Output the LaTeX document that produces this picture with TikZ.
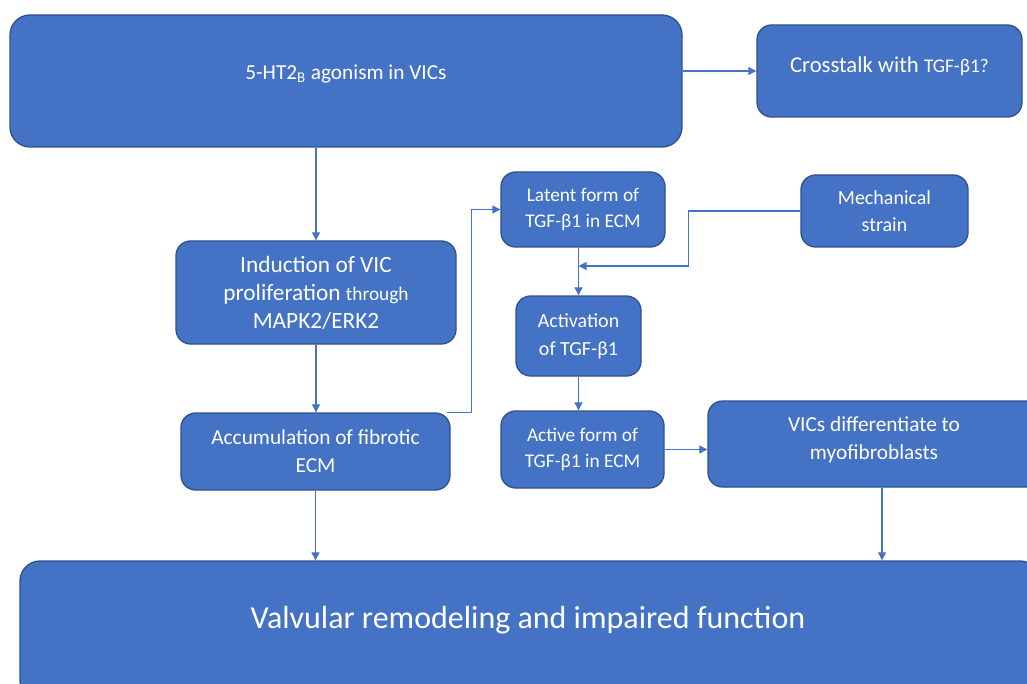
\documentclass[tikz,border=0pt]{standalone}
\usepackage{fontspec}
\setmainfont{Carlito}
\usetikzlibrary{arrows.meta}
\definecolor{boxfill}{HTML}{4472C4}
\definecolor{boxline}{HTML}{2F528F}
\tikzset{
  flowbox/.style={draw=boxline, line width=1pt, fill=boxfill, text=white, rounded corners=11pt, align=center, inner sep=2pt},
  flowarr/.style={draw=boxfill, line width=0.8pt, -{Triangle[length=6pt,width=6pt]}},
  mainfont/.style={font=\fontsize{16}{21}\selectfont},
  smallfont/.style={font=\fontsize{14.5}{20}\selectfont}
}
\begin{document}
\begin{tikzpicture}[x=0.75pt,y=0.75pt,yscale=-1,xscale=1]
\useasboundingbox (0,0) rectangle (1027,684);

%Rounded Rect: serotonin agonism
	\node [flowbox, mainfont, text depth=14pt, minimum width=504pt, minimum height=99pt, rounded corners=15pt] (agonism) at (346,81) {5-HT2\textsubscript{B} agonism in VICs};
%Rounded Rect: crosstalk
	\node [flowbox, font=\fontsize{17}{21}\selectfont, text depth=10pt, minimum width=198.75pt, minimum height=69pt] (crosstalk) at (889.5,71) {Crosstalk with {\fontsize{14.5}{20}\selectfont TGF-β1?}};
%Rounded Rect: latent form
	\node [flowbox, smallfont, minimum width=123pt, minimum height=56.25pt] (latent) at (583,209.5) {Latent form of\\TGF-β1 in ECM};
%Rounded Rect: mechanical strain
	\node [flowbox, font=\fontsize{15}{20}\selectfont, minimum width=125.25pt, minimum height=54pt] (strain) at (884.5,211) {Mechanical\\strain};
%Rounded Rect: proliferation
	\node [flowbox, font=\fontsize{17.5}{21}\selectfont, minimum width=210pt, minimum height=77.25pt] (prolif) at (316,292.5) {Induction of VIC\\proliferation {\fontsize{14.5}{20}\selectfont through}\\MAPK2/ERK2};
%Rounded Rect: activation
	\node [flowbox, font=\fontsize{15}{21}\selectfont, minimum width=93.75pt, minimum height=60pt] (activation) at (578.5,336) {Activation\\of TGF-β1};
%Rounded Rect: fibrotic ECM
	\node [flowbox, mainfont, minimum width=201.75pt, minimum height=57.75pt] (fibrotic) at (315.5,451.5) {Accumulation of fibrotic\\ECM};
%Rounded Rect: active form
	\node [flowbox, smallfont, minimum width=122.25pt, minimum height=57.75pt] (active) at (582.5,449.5) {Active form of\\TGF-β1 in ECM};
%Rounded Rect: myofibroblasts
	\node [flowbox, mainfont, text depth=9pt, minimum width=249pt, minimum height=64.5pt] (myofib) at (874,444) {VICs differentiate to\\myofibroblasts};
%Rounded Rect: remodeling
	\node [flowbox, minimum width=765pt, minimum height=105pt, rounded corners=15pt] (remodel) at (530,631) {};

% Text Node
	\node [text=white, font=\fontsize{24}{29}\selectfont] (remodeltext) at (528,620) {Valvular remodeling and impaired function};

%Straight Lines
	\coordinate (merge) at (activation.north |- 0,266);
	\draw [flowarr] (prolif.north |- agonism.south) -- (prolif.north);
	\draw [flowarr] (crosstalk.west -| agonism.east) -- (crosstalk.west);
	\draw [flowarr] (prolif.south) -- (prolif.south |- fibrotic.north);
	\draw [flowarr] ([xshift=-3]fibrotic.north east) -- ++(25,0) |- (latent.west);
	\draw [flowarr] (latent.south -| activation.north) -- (activation.north);
	\draw [flowarr] (strain.west) -- ++(-112,0) |- (merge);
	\draw [flowarr] (activation.south) -- (activation.south |- active.north);
	\draw [flowarr] (active.east) -- (active.east -| myofib.west);
	\draw [flowarr] (fibrotic.south) -- (fibrotic.south |- remodel.north);
	\draw [flowarr] ([xshift=6]myofib.south) -- ([xshift=6]myofib.south |- remodel.north);

\end{tikzpicture}
\end{document}
